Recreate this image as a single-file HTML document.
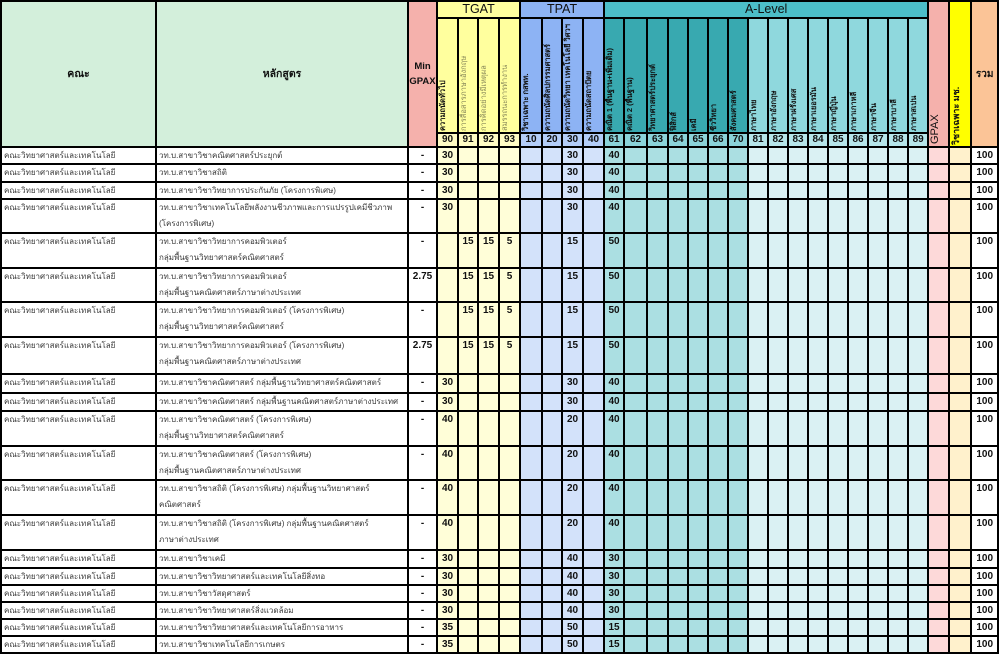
<!DOCTYPE html>
<html><head><meta charset="utf-8">
<style>
html,body{margin:0;padding:0;background:#fff;width:1000px;height:653px;overflow:hidden}
body{font-family:"Liberation Sans","Noto Sans CJK SC",sans-serif}
table{border-collapse:collapse;table-layout:fixed;position:absolute;left:0;top:0;width:997px}
td{border:2px solid #000;padding:0;overflow:hidden;white-space:nowrap;font-size:10px;line-height:15px;vertical-align:top;color:#111}
td.t{color:#3a3a3a;padding-left:2px;font-size:8px}
td.t2{line-height:16px}
td.n{font-weight:bold;text-align:center}
td.v{vertical-align:bottom;padding:0 0 1px 0}
td.v div{writing-mode:vertical-rl;transform:rotate(180deg);height:112px;font-weight:bold;font-size:7.5px;line-height:10px;text-align:left;overflow:hidden;white-space:nowrap}
td.v div.l{font-weight:normal;color:#8a8a5a}
td.h{text-align:center;vertical-align:middle;font-size:12.5px;line-height:15px}
td.num{text-align:center;vertical-align:middle;font-weight:bold;font-size:10px;line-height:12px}
.g{background:#d3efdb}
.p{background:#f5b1ac}
.y1{background:#ffff9e}.y2{background:#fffcc4}
.b1{background:#8db3f4}.b2{background:#b3cdf8}
.a0{background:#4cbec8}.a1{background:#38a9b0}.a2{background:#8bd3d9}.c1{background:#8fd8dd}.c2{background:#b6e6ea}
.yy{background:#ffff00}.pc{background:#fbc497}
</style></head><body>
<table>
<colgroup>
<col style="width:155px"><col style="width:252px"><col style="width:29px">
<col style="width:21px;background:#fffed8"><col style="width:20px;background:#fffed8"><col style="width:21px;background:#fffed8"><col style="width:21px;background:#fffed8">
<col style="width:22px;background:#d3e2fa"><col style="width:20px;background:#d3e2fa"><col style="width:21px;background:#d3e2fa"><col style="width:21px;background:#d3e2fa">
<col style="width:20px;background:#abdfe2"><col style="width:23px;background:#abdfe2"><col style="width:21px;background:#abdfe2"><col style="width:20px;background:#abdfe2"><col style="width:20px;background:#abdfe2"><col style="width:20px;background:#abdfe2"><col style="width:20px;background:#abdfe2">
<col style="width:20px;background:#daf1f3"><col style="width:20px;background:#daf1f3"><col style="width:20px;background:#daf1f3"><col style="width:20px;background:#daf1f3"><col style="width:20px;background:#daf1f3"><col style="width:20px;background:#daf1f3"><col style="width:20px;background:#daf1f3"><col style="width:20px;background:#daf1f3"><col style="width:20px;background:#daf1f3">
<col style="width:21px;background:#fdd9d9"><col style="width:22px;background:#fff1cc"><col style="width:27px">
</colgroup>
<tr style="height:17px">
<td rowspan="3" class="g" style="text-align:center;vertical-align:middle;font-weight:bold;font-size:10.5px">คณะ</td>
<td rowspan="3" class="g" style="text-align:center;vertical-align:middle;font-weight:bold;font-size:10.5px">หลักสูตร</td>
<td rowspan="3" class="p" style="text-align:center;vertical-align:middle;font-size:9.5px;font-weight:bold;line-height:15px">Min<br>GPAX</td>
<td colspan="4" class="h y1">TGAT</td>
<td colspan="4" class="h b1">TPAT</td>
<td colspan="16" class="h a0">A-Level</td>
<td rowspan="3" class="p" style="vertical-align:bottom;padding-bottom:2px"><div style="writing-mode:vertical-rl;transform:rotate(180deg);font-size:11px;line-height:13px;height:40px;text-align:left">GPAX</div></td>
<td rowspan="3" class="yy" style="vertical-align:bottom;padding-bottom:1px"><div style="writing-mode:vertical-rl;transform:rotate(180deg);font-size:9px;font-weight:bold;line-height:12px;height:75px;text-align:left;white-space:nowrap">วิชาเฉพาะ มช.</div></td>
<td rowspan="3" class="pc" style="text-align:center;vertical-align:middle;font-weight:bold;font-size:10px">รวม</td>
</tr>
<tr style="height:115px">
<td class="v y1"><div>ความถนัดทั่วไป</div></td>
<td class="v y1"><div class="l">การสื่อสารภาษาอังกฤษ</div></td>
<td class="v y1"><div class="l">การคิดอย่างมีเหตุผล</div></td>
<td class="v y1"><div class="l">สมรรถนะการทำงาน</div></td>
<td class="v b1"><div>วิชาเฉพาะ กสพท.</div></td>
<td class="v b1"><div>ความถนัดศิลปกรรมศาสตร์</div></td>
<td class="v b1"><div>ความถนัดวิทยา เทคโนโลยี วิศวฯ</div></td>
<td class="v b1"><div>ความถนัดสถาปัตย</div></td>
<td class="v a1"><div>คณิต 1 (พื้นฐาน+เพิ่มเติม)</div></td>
<td class="v a1"><div>คณิต 2 (พื้นฐาน)</div></td>
<td class="v a1"><div>วิทยาศาสตร์ประยุกต์</div></td>
<td class="v a1"><div>ฟิสิกส์</div></td>
<td class="v a1"><div>เคมี</div></td>
<td class="v a1"><div>ชีววิทยา</div></td>
<td class="v a1"><div>สังคมศาสตร์</div></td>
<td class="v c1"><div>ภาษาไทย</div></td>
<td class="v c1"><div>ภาษาอังกฤษ</div></td>
<td class="v c1"><div>ภาษาฝรั่งเศส</div></td>
<td class="v c1"><div>ภาษาเยอรมัน</div></td>
<td class="v c1"><div>ภาษาญี่ปุ่น</div></td>
<td class="v c1"><div>ภาษาเกาหลี</div></td>
<td class="v c1"><div>ภาษาจีน</div></td>
<td class="v c1"><div>ภาษาบาลี</div></td>
<td class="v c1"><div>ภาษาสเปน</div></td>
</tr>
<tr style="height:14px">
<td class="num y2">90</td><td class="num y2">91</td><td class="num y2">92</td><td class="num y2">93</td>
<td class="num b2">10</td><td class="num b2">20</td><td class="num b2">30</td><td class="num b2">40</td>
<td class="num a2">61</td><td class="num a2">62</td><td class="num a2">63</td><td class="num a2">64</td><td class="num a2">65</td><td class="num a2">66</td><td class="num a2">70</td>
<td class="num c2">81</td><td class="num c2">82</td><td class="num c2">83</td><td class="num c2">84</td><td class="num c2">85</td><td class="num c2">86</td><td class="num c2">87</td><td class="num c2">88</td><td class="num c2">89</td>
</tr>

<tr style="height:17px"><td class="t">คณะวิทยาศาสตร์และเทคโนโลยี</td><td class="t">วท.บ.สาขาวิชาคณิตศาสตร์ประยุกต์</td><td class="n">-</td><td class="n">30</td><td></td><td></td><td></td><td></td><td></td><td class="n">30</td><td></td><td class="n">40</td><td></td><td></td><td></td><td></td><td></td><td></td><td></td><td></td><td></td><td></td><td></td><td></td><td></td><td></td><td></td><td></td><td></td><td class="n">100</td></tr>
<tr style="height:18px"><td class="t">คณะวิทยาศาสตร์และเทคโนโลยี</td><td class="t">วท.บ.สาขาวิชาสถิติ</td><td class="n">-</td><td class="n">30</td><td></td><td></td><td></td><td></td><td></td><td class="n">30</td><td></td><td class="n">40</td><td></td><td></td><td></td><td></td><td></td><td></td><td></td><td></td><td></td><td></td><td></td><td></td><td></td><td></td><td></td><td></td><td></td><td class="n">100</td></tr>
<tr style="height:17px"><td class="t">คณะวิทยาศาสตร์และเทคโนโลยี</td><td class="t">วท.บ.สาขาวิชาวิทยาการประกันภัย (โครงการพิเศษ)</td><td class="n">-</td><td class="n">30</td><td></td><td></td><td></td><td></td><td></td><td class="n">30</td><td></td><td class="n">40</td><td></td><td></td><td></td><td></td><td></td><td></td><td></td><td></td><td></td><td></td><td></td><td></td><td></td><td></td><td></td><td></td><td></td><td class="n">100</td></tr>
<tr style="height:34px"><td class="t">คณะวิทยาศาสตร์และเทคโนโลยี</td><td class="t t2">วท.บ.สาขาวิชาเทคโนโลยีพลังงานชีวภาพและการแปรรูปเคมีชีวภาพ<br>(โครงการพิเศษ)</td><td class="n">-</td><td class="n">30</td><td></td><td></td><td></td><td></td><td></td><td class="n">30</td><td></td><td class="n">40</td><td></td><td></td><td></td><td></td><td></td><td></td><td></td><td></td><td></td><td></td><td></td><td></td><td></td><td></td><td></td><td></td><td></td><td class="n">100</td></tr>
<tr style="height:35px"><td class="t">คณะวิทยาศาสตร์และเทคโนโลยี</td><td class="t t2">วท.บ.สาขาวิชาวิทยาการคอมพิวเตอร์<br>กลุ่มพื้นฐานวิทยาศาสตร์คณิตศาสตร์</td><td class="n">-</td><td></td><td class="n">15</td><td class="n">15</td><td class="n">5</td><td></td><td></td><td class="n">15</td><td></td><td class="n">50</td><td></td><td></td><td></td><td></td><td></td><td></td><td></td><td></td><td></td><td></td><td></td><td></td><td></td><td></td><td></td><td></td><td></td><td class="n">100</td></tr>
<tr style="height:34px"><td class="t">คณะวิทยาศาสตร์และเทคโนโลยี</td><td class="t t2">วท.บ.สาขาวิชาวิทยาการคอมพิวเตอร์<br>กลุ่มพื้นฐานคณิตศาสตร์ภาษาต่างประเทศ</td><td class="n">2.75</td><td></td><td class="n">15</td><td class="n">15</td><td class="n">5</td><td></td><td></td><td class="n">15</td><td></td><td class="n">50</td><td></td><td></td><td></td><td></td><td></td><td></td><td></td><td></td><td></td><td></td><td></td><td></td><td></td><td></td><td></td><td></td><td></td><td class="n">100</td></tr>
<tr style="height:35px"><td class="t">คณะวิทยาศาสตร์และเทคโนโลยี</td><td class="t t2">วท.บ.สาขาวิชาวิทยาการคอมพิวเตอร์ (โครงการพิเศษ)<br>กลุ่มพื้นฐานวิทยาศาสตร์คณิตศาสตร์</td><td class="n">-</td><td></td><td class="n">15</td><td class="n">15</td><td class="n">5</td><td></td><td></td><td class="n">15</td><td></td><td class="n">50</td><td></td><td></td><td></td><td></td><td></td><td></td><td></td><td></td><td></td><td></td><td></td><td></td><td></td><td></td><td></td><td></td><td></td><td class="n">100</td></tr>
<tr style="height:37px"><td class="t">คณะวิทยาศาสตร์และเทคโนโลยี</td><td class="t t2">วท.บ.สาขาวิชาวิทยาการคอมพิวเตอร์ (โครงการพิเศษ)<br>กลุ่มพื้นฐานคณิตศาสตร์ภาษาต่างประเทศ</td><td class="n">2.75</td><td></td><td class="n">15</td><td class="n">15</td><td class="n">5</td><td></td><td></td><td class="n">15</td><td></td><td class="n">50</td><td></td><td></td><td></td><td></td><td></td><td></td><td></td><td></td><td></td><td></td><td></td><td></td><td></td><td></td><td></td><td></td><td></td><td class="n">100</td></tr>
<tr style="height:19px"><td class="t">คณะวิทยาศาสตร์และเทคโนโลยี</td><td class="t">วท.บ.สาขาวิชาคณิตศาสตร์ กลุ่มพื้นฐานวิทยาศาสตร์คณิตศาสตร์</td><td class="n">-</td><td class="n">30</td><td></td><td></td><td></td><td></td><td></td><td class="n">30</td><td></td><td class="n">40</td><td></td><td></td><td></td><td></td><td></td><td></td><td></td><td></td><td></td><td></td><td></td><td></td><td></td><td></td><td></td><td></td><td></td><td class="n">100</td></tr>
<tr style="height:18px"><td class="t">คณะวิทยาศาสตร์และเทคโนโลยี</td><td class="t">วท.บ.สาขาวิชาคณิตศาสตร์ กลุ่มพื้นฐานคณิตศาสตร์ภาษาต่างประเทศ</td><td class="n">-</td><td class="n">30</td><td></td><td></td><td></td><td></td><td></td><td class="n">30</td><td></td><td class="n">40</td><td></td><td></td><td></td><td></td><td></td><td></td><td></td><td></td><td></td><td></td><td></td><td></td><td></td><td></td><td></td><td></td><td></td><td class="n">100</td></tr>
<tr style="height:35px"><td class="t">คณะวิทยาศาสตร์และเทคโนโลยี</td><td class="t t2">วท.บ.สาขาวิชาคณิตศาสตร์ (โครงการพิเศษ)<br>กลุ่มพื้นฐานวิทยาศาสตร์คณิตศาสตร์</td><td class="n">-</td><td class="n">40</td><td></td><td></td><td></td><td></td><td></td><td class="n">20</td><td></td><td class="n">40</td><td></td><td></td><td></td><td></td><td></td><td></td><td></td><td></td><td></td><td></td><td></td><td></td><td></td><td></td><td></td><td></td><td></td><td class="n">100</td></tr>
<tr style="height:34px"><td class="t">คณะวิทยาศาสตร์และเทคโนโลยี</td><td class="t t2">วท.บ.สาขาวิชาคณิตศาสตร์ (โครงการพิเศษ)<br>กลุ่มพื้นฐานคณิตศาสตร์ภาษาต่างประเทศ</td><td class="n">-</td><td class="n">40</td><td></td><td></td><td></td><td></td><td></td><td class="n">20</td><td></td><td class="n">40</td><td></td><td></td><td></td><td></td><td></td><td></td><td></td><td></td><td></td><td></td><td></td><td></td><td></td><td></td><td></td><td></td><td></td><td class="n">100</td></tr>
<tr style="height:35px"><td class="t">คณะวิทยาศาสตร์และเทคโนโลยี</td><td class="t t2">วท.บ.สาขาวิชาสถิติ (โครงการพิเศษ) กลุ่มพื้นฐานวิทยาศาสตร์<br>คณิตศาสตร์</td><td class="n">-</td><td class="n">40</td><td></td><td></td><td></td><td></td><td></td><td class="n">20</td><td></td><td class="n">40</td><td></td><td></td><td></td><td></td><td></td><td></td><td></td><td></td><td></td><td></td><td></td><td></td><td></td><td></td><td></td><td></td><td></td><td class="n">100</td></tr>
<tr style="height:35px"><td class="t">คณะวิทยาศาสตร์และเทคโนโลยี</td><td class="t t2">วท.บ.สาขาวิชาสถิติ (โครงการพิเศษ) กลุ่มพื้นฐานคณิตศาสตร์<br>ภาษาต่างประเทศ</td><td class="n">-</td><td class="n">40</td><td></td><td></td><td></td><td></td><td></td><td class="n">20</td><td></td><td class="n">40</td><td></td><td></td><td></td><td></td><td></td><td></td><td></td><td></td><td></td><td></td><td></td><td></td><td></td><td></td><td></td><td></td><td></td><td class="n">100</td></tr>
<tr style="height:18px"><td class="t">คณะวิทยาศาสตร์และเทคโนโลยี</td><td class="t">วท.บ.สาขาวิชาเคมี</td><td class="n">-</td><td class="n">30</td><td></td><td></td><td></td><td></td><td></td><td class="n">40</td><td></td><td class="n">30</td><td></td><td></td><td></td><td></td><td></td><td></td><td></td><td></td><td></td><td></td><td></td><td></td><td></td><td></td><td></td><td></td><td></td><td class="n">100</td></tr>
<tr style="height:17px"><td class="t">คณะวิทยาศาสตร์และเทคโนโลยี</td><td class="t">วท.บ.สาขาวิชาวิทยาศาสตร์และเทคโนโลยีสิ่งทอ</td><td class="n">-</td><td class="n">30</td><td></td><td></td><td></td><td></td><td></td><td class="n">40</td><td></td><td class="n">30</td><td></td><td></td><td></td><td></td><td></td><td></td><td></td><td></td><td></td><td></td><td></td><td></td><td></td><td></td><td></td><td></td><td></td><td class="n">100</td></tr>
<tr style="height:17px"><td class="t">คณะวิทยาศาสตร์และเทคโนโลยี</td><td class="t">วท.บ.สาขาวิชาวัสดุศาสตร์</td><td class="n">-</td><td class="n">30</td><td></td><td></td><td></td><td></td><td></td><td class="n">40</td><td></td><td class="n">30</td><td></td><td></td><td></td><td></td><td></td><td></td><td></td><td></td><td></td><td></td><td></td><td></td><td></td><td></td><td></td><td></td><td></td><td class="n">100</td></tr>
<tr style="height:17px"><td class="t">คณะวิทยาศาสตร์และเทคโนโลยี</td><td class="t">วท.บ.สาขาวิชาวิทยาศาสตร์สิ่งแวดล้อม</td><td class="n">-</td><td class="n">30</td><td></td><td></td><td></td><td></td><td></td><td class="n">40</td><td></td><td class="n">30</td><td></td><td></td><td></td><td></td><td></td><td></td><td></td><td></td><td></td><td></td><td></td><td></td><td></td><td></td><td></td><td></td><td></td><td class="n">100</td></tr>
<tr style="height:17px"><td class="t">คณะวิทยาศาสตร์และเทคโนโลยี</td><td class="t">วท.บ.สาขาวิชาวิทยาศาสตร์และเทคโนโลยีการอาหาร</td><td class="n">-</td><td class="n">35</td><td></td><td></td><td></td><td></td><td></td><td class="n">50</td><td></td><td class="n">15</td><td></td><td></td><td></td><td></td><td></td><td></td><td></td><td></td><td></td><td></td><td></td><td></td><td></td><td></td><td></td><td></td><td></td><td class="n">100</td></tr>
<tr style="height:17px"><td class="t">คณะวิทยาศาสตร์และเทคโนโลยี</td><td class="t">วท.บ.สาขาวิชาเทคโนโลยีการเกษตร</td><td class="n">-</td><td class="n">35</td><td></td><td></td><td></td><td></td><td></td><td class="n">50</td><td></td><td class="n">15</td><td></td><td></td><td></td><td></td><td></td><td></td><td></td><td></td><td></td><td></td><td></td><td></td><td></td><td></td><td></td><td></td><td></td><td class="n">100</td></tr>
</table>
</body></html>
